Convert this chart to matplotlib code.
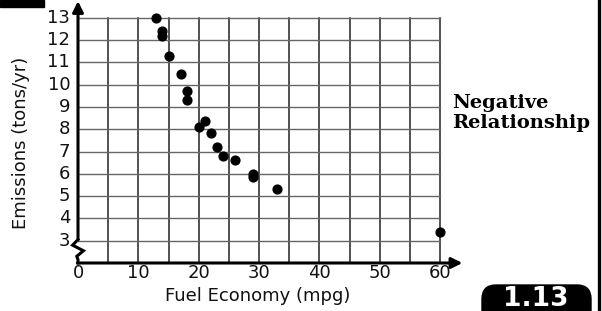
import numpy as np
import matplotlib
matplotlib.use("Agg")
import matplotlib.pyplot as plt
from matplotlib.patches import FancyBboxPatch, Rectangle

# fuel economy (mpg) vs emissions (tons/yr)
mpg = [13, 14, 14, 15, 17, 18, 18, 20, 21, 22, 23, 24, 26, 29, 29, 33, 60]
emissions = [13.0, 12.4, 12.2, 11.3, 10.5, 9.7, 9.3, 8.1, 8.35, 7.85, 7.2,
             6.8, 6.6, 6.0, 5.85, 5.3, 3.4]

x_ticks = [0, 10, 20, 30, 40, 50, 60]
y_ticks = [3, 4, 5, 6, 7, 8, 9, 10, 11, 12, 13]

W, H = 602, 311
fig = plt.figure(figsize=(W / 100, H / 100), dpi=100)
ax = fig.add_axes([78 / W, (H - 263) / H, 388 / W, 263 / H])
ax.set_xlim(0, 64.3)
ax.set_ylim(2, 13.8)
ax.axis("off")

font = "DejaVu Sans"

# grid
for v in np.arange(5, 61, 5):
    ax.plot([v, v], [2, 13], color="#222222", lw=1.1, zorder=1)
for h in y_ticks:
    ax.plot([0, 60], [h, h], color="#666666", lw=1.0, zorder=1)

# axes with arrows and break
ax.annotate("", xy=(0, 13.75), xytext=(0, 3.05),
            arrowprops=dict(arrowstyle="-|>", lw=2.2, color="k", mutation_scale=16,
                            shrinkA=0, shrinkB=0), annotation_clip=False)
ax.annotate("", xy=(63.7, 2), xytext=(-0.1, 2),
            arrowprops=dict(arrowstyle="-|>", lw=2.2, color="k", mutation_scale=16,
                            shrinkA=0, shrinkB=0), annotation_clip=False)
ax.plot([0, -0.9, 0.9, -0.2, 0, 0], [3.05, 2.8, 2.55, 2.3, 2.15, 2.0],
        color="k", lw=2.2, clip_on=False, solid_joinstyle="miter")

ax.scatter(mpg, emissions, s=40, color="k", zorder=3, clip_on=False)

for v in x_ticks:
    ax.text(v, 1.55, str(v), ha="center", va="center", fontsize=13,
            family=font, color="#111111")
for h in y_ticks:
    ax.text(-1.3, h, str(h), ha="right", va="center", fontsize=13,
            family=font, color="#111111")

fig.text(258 / W, (H - 296) / H, "Fuel Economy (mpg)", ha="center", va="center",
         fontsize=13, family=font, color="#111111")
fig.text(21 / W, (H - 143) / H, "Emissions (tons/yr)", ha="center", va="center",
         rotation=90, fontsize=13, family=font, color="#111111")

fig.text(452 / W, (H - 113) / H, "Negative\nRelationship", ha="left", va="center",
         fontsize=14, family="DejaVu Serif", fontweight="bold", linespacing=1.15)

# page decorations
fig.patches.append(Rectangle((0, (H - 7) / H), 44 / W, 7 / H, transform=fig.transFigure,
                             color="k"))
fig.lines.append(plt.Line2D([598.5 / W, 598.5 / W], [0, 1], transform=fig.transFigure,
                            color="k", lw=2.4))
fig.patches.append(FancyBboxPatch((4.82, -0.2), 1.09, 0.46,
                                  boxstyle="round,pad=0,rounding_size=0.14",
                                  transform=fig.dpi_scale_trans, color="k"))
fig.text(536 / W, (H - 299) / H, "1.13", ha="center", va="center", fontsize=19,
         fontweight="bold", color="white", family="DejaVu Sans")

fig.savefig("out.png", dpi=100)
